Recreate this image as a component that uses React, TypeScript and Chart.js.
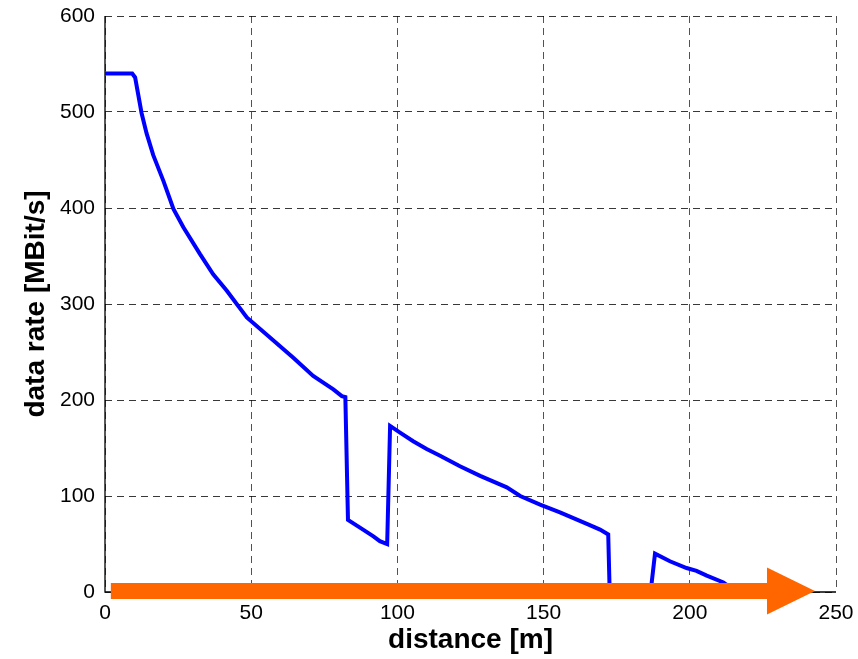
import React, { useEffect, useRef } from "react";
import { Chart, registerables } from "chart.js";

Chart.register(...registerables);

// Data
const distance = [0, 9.3, 10.3, 12.5, 14.2, 16.5, 20, 23.4, 26.8, 32.5, 37, 41.6, 48.5, 57.6, 64.4, 71.2, 78.1, 81, 82.2, 83.1, 87.2, 91.8, 94, 96.5, 97.5, 100.9, 105.4, 110, 114.6, 121.4, 128.3, 137.4, 142, 148.8, 155.6, 164.8, 169.3, 172.1, 172.6, 186.6, 188.1, 193.2, 198.9, 202.3, 205.8, 211.5, 216];
const dataRate = [540, 540, 536, 499, 478, 455, 428, 399, 380, 352, 331, 314, 286, 262, 244, 225, 211, 204, 203, 75, 67, 58, 53, 50, 173, 166, 157, 149, 142, 131, 121, 109, 100, 91, 83, 71, 65, 60, 0, 0, 40, 32, 25, 22, 17, 10, 0];

const xTicks = [0, 50, 100, 150, 200, 250];
const yTicks = [0, 100, 200, 300, 400, 500, 600];

// Arrow (distance axis annotation)
const arrowStart = 2;
const arrowHeadBase = 226.4;
const arrowTip = 242.8;
const arrowLevel = 1;

const FONT = "'Liberation Sans', Arial, Helvetica, sans-serif";

const axisLinesPlugin = {
  id: "axisLines",
  beforeDatasetsDraw(chart: any) {
    const { ctx, chartArea } = chart;
    ctx.save();
    ctx.strokeStyle = "#000";
    ctx.lineWidth = 1.3;
    ctx.setLineDash([]);
    ctx.beginPath();
    ctx.moveTo(chartArea.left, chartArea.top);
    ctx.lineTo(chartArea.left, chartArea.bottom);
    ctx.lineTo(chartArea.right, chartArea.bottom);
    ctx.stroke();
    ctx.restore();
  },
};

const arrowPlugin = {
  id: "distanceArrow",
  afterDatasetsDraw(chart: any) {
    const { ctx, scales } = chart;
    const xs = scales.x;
    const ys = scales.y;
    const x0 = xs.getPixelForValue(arrowStart);
    const xb = xs.getPixelForValue(arrowHeadBase);
    const xt = xs.getPixelForValue(arrowTip);
    const yc = ys.getPixelForValue(arrowLevel);
    const shaft = 8;
    const head = 23.5;
    ctx.save();
    ctx.fillStyle = "#ff6600";
    ctx.beginPath();
    ctx.moveTo(x0, yc - shaft);
    ctx.lineTo(xb, yc - shaft);
    ctx.lineTo(xb, yc - head);
    ctx.lineTo(xt, yc);
    ctx.lineTo(xb, yc + head);
    ctx.lineTo(xb, yc + shaft);
    ctx.lineTo(x0, yc + shaft);
    ctx.closePath();
    ctx.fill();
    ctx.restore();
  },
};

export default function App() {
  const ref = useRef<HTMLCanvasElement>(null);

  useEffect(() => {
    if (!ref.current) return;
    const points = distance.map((d, i) => ({ x: d, y: dataRate[i] }));
    const chart = new Chart(ref.current, {
      type: "line",
      data: {
        datasets: [
          {
            data: points,
            borderColor: "#0000ff",
            borderWidth: 4,
            pointRadius: 0,
            tension: 0,
            fill: false,
          },
        ],
      },
      options: {
        animation: false,
        responsive: false,
        layout: { padding: { left: 0, right: 22, top: 16, bottom: 0 } },
        plugins: { legend: { display: false }, tooltip: { enabled: false } },
        scales: {
          x: {
            type: "linear",
            min: 0,
            max: 250,
            afterBuildTicks: (s: any) => {
              s.ticks = xTicks.map((v) => ({ value: v }));
            },
            afterFit: (s: any) => {
              s.height = 67;
              s.paddingLeft = 0;
              s.paddingRight = 0;
            },
            ticks: {
              color: "#000",
              font: { family: FONT, size: 21 },
              padding: 9,
              maxRotation: 0,
            },
            grid: {
              color: "rgba(0,0,0,0.68)",
              lineWidth: 1,
              drawTicks: false,
            },
            border: { display: false, dash: [7, 5] },
            title: {
              display: true,
              text: "distance [m]",
              color: "#000",
              font: { family: FONT, size: 28, weight: "bold" },
              padding: { top: 0, bottom: 2 },
            },
          },
          y: {
            type: "linear",
            min: 0,
            max: 600,
            afterBuildTicks: (s: any) => {
              s.ticks = yTicks.map((v) => ({ value: v }));
            },
            afterFit: (s: any) => {
              s.width = 105;
              s.paddingTop = 0;
              s.paddingBottom = 0;
            },
            ticks: {
              color: "#000",
              font: { family: FONT, size: 21 },
              padding: 10,
            },
            grid: {
              color: "rgba(0,0,0,0.78)",
              lineWidth: 1,
              drawTicks: false,
            },
            border: { display: false, dash: [7, 5] },
            title: {
              display: true,
              text: "data rate [MBit/s]",
              color: "#000",
              font: { family: FONT, size: 28, weight: "bold" },
              padding: { top: 19, bottom: 0 },
            },
          },
        },
      },
      plugins: [axisLinesPlugin, arrowPlugin],
    });
    return () => chart.destroy();
  }, []);

  return (
    <div style={{ position: "fixed", left: 0, top: 0, width: 858, height: 659, background: "#fff" }}>
      <canvas ref={ref} width={858} height={659} style={{ display: "block" }} />
    </div>
  );
}
